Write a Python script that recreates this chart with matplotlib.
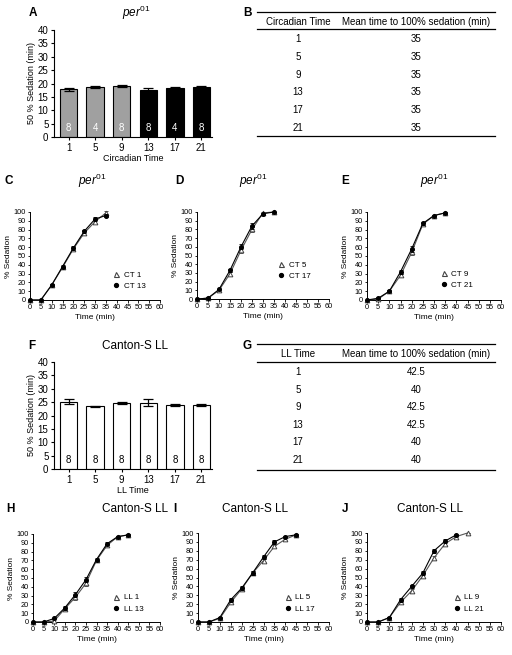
import matplotlib
matplotlib.use('Agg')
import matplotlib.pyplot as plt
from matplotlib.lines import Line2D

plt.rcParams['font.family'] = ['Liberation Sans', 'DejaVu Sans']
plt.rcParams['mathtext.fontset'] = 'custom'
plt.rcParams['mathtext.rm'] = 'Liberation Sans'
plt.rcParams['mathtext.it'] = 'Liberation Sans:italic'

W, H = 512, 655
fig = plt.figure(figsize=(W / 100, H / 100), dpi=100)

# ---------------- data ----------------
ct_labels = ['1', '5', '9', '13', '17', '21']
per_means = [17.8, 18.7, 19.0, 17.7, 18.2, 18.6]
per_sem = [0.5, 0.3, 0.4, 0.7, 0.6, 0.3]
per_n = [8, 4, 8, 8, 4, 8]
per_colors = ['#a0a0a0', '#a0a0a0', '#a0a0a0', '#000000', '#000000', '#000000']
per_text_colors = ['white'] * 6

ll_means = [25.2, 23.4, 24.8, 24.7, 23.9, 23.9]
ll_sem = [1.0, 0.3, 0.4, 1.3, 0.3, 0.3]
ll_n = [8, 8, 8, 8, 8, 8]

table_b_header = ['Circadian Time', 'Mean time to 100% sedation (min)']
table_b_times = ['1', '5', '9', '13', '17', '21']
table_b_vals = ['35', '35', '35', '35', '35', '35']
table_g_header = ['LL Time', 'Mean time to 100% sedation (min)']
table_g_times = ['1', '5', '9', '13', '17', '21']
table_g_vals = ['42.5', '40', '42.5', '42.5', '40', '40']

time_per = [0, 5, 10, 15, 20, 25, 30, 35]
ct1 = [0, 0, 17, 37, 58, 76, 89, 99]
ct1_err = [0, 0, 1, 2, 2, 2, 2, 2]
ct13 = [0, 0, 17, 38, 59, 78, 92, 96]
ct13_err = [0, 0, 1, 2, 2, 2, 2, 2]
ct5 = [0, 1, 10, 29, 56, 80, 99, 100]
ct5_err = [0, 1, 1, 2, 3, 3, 1, 0]
ct17 = [0, 1, 11, 33, 60, 84, 98, 100]
ct17_err = [0, 1, 1, 2, 3, 3, 1, 0]
ct9 = [0, 1, 10, 28, 54, 86, 96, 99]
ct9_err = [0, 1, 1, 2, 3, 2, 1, 1]
ct21 = [0, 2, 10, 32, 58, 87, 96, 99]
ct21_err = [0, 1, 1, 2, 3, 2, 1, 1]

time_ll = [0, 5, 10, 15, 20, 25, 30, 35, 40, 45]
ll1 = [0, 0, 1, 15, 28, 44, 70, 87, 97, 99]
ll1_err = [0, 0, 1, 2, 3, 3, 2, 2, 1, 1]
ll13 = [0, 0, 4, 16, 31, 48, 71, 89, 97, 99]
ll13_err = [0, 0, 1, 2, 3, 3, 2, 2, 1, 1]
ll5 = [0, 0, 4, 22, 37, 55, 69, 85, 93, 98]
ll5_err = [0, 0, 1, 2, 2, 2, 2, 2, 1, 1]
ll17 = [0, 0, 5, 25, 38, 55, 73, 90, 96, 98]
ll17_err = [0, 0, 1, 2, 2, 2, 2, 2, 1, 1]
ll9 = [0, 0, 5, 22, 35, 52, 72, 88, 96, 100]
ll9_err = [0, 0, 1, 2, 2, 2, 2, 2, 1, 0]
time_ll21 = [0, 5, 10, 15, 20, 25, 30, 35, 40]
ll21 = [0, 0, 5, 25, 40, 55, 80, 91, 98]
ll21_err = [0, 0, 1, 2, 2, 2, 2, 2, 1]


def add_ax(l, t, r, b):
    return fig.add_axes([l / W, 1 - b / H, (r - l) / W, (b - t) / H])


def ftext(x, y, s, **kw):
    fig.text(x / W, 1 - y / H, s, **kw)


def bar_panel(rect, means, sem, ns, colors, tcolors, xlabel):
    ax = add_ax(*rect)
    x = list(range(len(means)))
    ax.bar(x, means, width=0.66, color=colors, edgecolor='black', linewidth=0.8)
    ax.errorbar(x, means, yerr=sem, fmt='none', ecolor='black', elinewidth=0.9,
                capsize=3.5, capthick=0.9)
    for xi, n, tc in zip(x, ns, tcolors):
        ax.text(xi, 3.3, str(n), ha='center', va='center', fontsize=7, color=tc)
    ax.set_xlim(-0.55, 5.4)
    ax.set_ylim(0, 40)
    ax.set_yticks(range(0, 41, 5))
    ax.set_xticks(x)
    ax.set_xticklabels(ct_labels)
    ax.spines['top'].set_visible(False)
    ax.spines['right'].set_visible(False)
    for s in ('left', 'bottom'):
        ax.spines[s].set_linewidth(0.8)
    ax.tick_params(labelsize=7, length=2.5, width=0.8, pad=1.5)
    ax.set_ylabel('50 % Sedation (min)', fontsize=6.5, labelpad=1)
    ax.set_xlabel(xlabel, fontsize=6.5, labelpad=1)
    return ax


def line_panel(rect, t1, y1, e1, lab1, t2, y2, e2, lab2, leg_anchor):
    ax = add_ax(*rect)
    ax.errorbar(t1, y1, yerr=e1, color='#555555', marker='^', ms=3.4, mfc='white',
                mec='#444444', mew=0.7, lw=0.8, elinewidth=0.6, capsize=1.2,
                capthick=0.6, clip_on=False, zorder=3)
    ax.errorbar(t2, y2, yerr=e2, color='black', marker='o', ms=2.6, mfc='black',
                mec='black', lw=0.8, elinewidth=0.6, capsize=1.2,
                capthick=0.6, clip_on=False, zorder=4)
    ax.set_xlim(0, 60)
    ax.set_ylim(0, 100)
    ax.set_xticks(range(0, 61, 5))
    ax.set_yticks(range(0, 101, 10))
    ax.spines['top'].set_visible(False)
    ax.spines['right'].set_visible(False)
    for s in ('left', 'bottom'):
        ax.spines[s].set_linewidth(0.7)
    ax.tick_params(labelsize=5.3, length=1.8, width=0.6, pad=1)
    ax.set_ylabel('% Sedation', fontsize=6, labelpad=1)
    ax.set_xlabel('Time (min)', fontsize=6, labelpad=2)
    h1 = Line2D([], [], ls='none', marker='^', ms=3.6, mfc='white', mec='#444444', mew=0.8)
    h2 = Line2D([], [], ls='none', marker='o', ms=2.8, mfc='black', mec='black')
    ax.legend([h1, h2], [lab1, lab2], loc='lower right', bbox_to_anchor=leg_anchor,
              frameon=False, fontsize=5.8, handlelength=0.8, handletextpad=0.5,
              labelspacing=0.45, borderpad=0.0)
    return ax


def table_panel(x0, x1, ytop, yhead, yline2, rows_y, ybot, header, col1, col2, c1x, c2x):
    fig.add_artist(Line2D([x0 / W, x1 / W], [1 - ytop / H] * 2, color='black', lw=0.9))
    fig.add_artist(Line2D([x0 / W, x1 / W], [1 - yline2 / H] * 2, color='black', lw=0.9))
    fig.add_artist(Line2D([x0 / W, x1 / W], [1 - ybot / H] * 2, color='black', lw=0.9))
    ftext(c1x, yhead, header[0], ha='center', va='center', fontsize=7)
    ftext(c2x, yhead, header[1], ha='center', va='center', fontsize=7)
    for yy, a, b in zip(rows_y, col1, col2):
        ftext(c1x, yy, a, ha='center', va='center', fontsize=7)
        ftext(c2x, yy, b, ha='center', va='center', fontsize=7)


# ---------------- panels ----------------
bar_panel((54, 30, 212, 137), per_means, per_sem, per_n, per_colors, per_text_colors,
          'Circadian Time')
bar_panel((54, 362, 212, 469), ll_means, ll_sem, ll_n, ['white'] * 6, ['black'] * 6,
          'LL Time')

table_panel(257, 495, 12, 22, 29, [39, 57, 75, 92, 110, 128], 136,
            table_b_header, table_b_times, table_b_vals, 298, 416)
table_panel(257, 495, 344, 354, 362, [372, 390, 407, 425, 442, 460], 470,
            table_g_header, table_g_times, table_g_vals, 298, 416)

line_panel((30, 212, 160, 300), time_per, ct1, ct1_err, 'CT 1', time_per, ct13, ct13_err,
           'CT 13', (0.92, 0.07))
line_panel((197, 212, 329, 299), time_per, ct5, ct5_err, 'CT 5', time_per, ct17, ct17_err,
           'CT 17', (0.89, 0.17))
line_panel((367, 212, 501, 300), time_per, ct9, ct9_err, 'CT 9', time_per, ct21, ct21_err,
           'CT 21', (0.82, 0.08))
line_panel((33, 534, 160, 622), time_ll, ll1, ll1_err, 'LL 1', time_ll, ll13, ll13_err,
           'LL 13', (0.9, 0.06))
line_panel((198, 533, 329, 622), time_ll, ll5, ll5_err, 'LL 5', time_ll, ll17, ll17_err,
           'LL 17', (0.92, 0.06))
line_panel((367, 533, 501, 622), time_ll, ll9, ll9_err, 'LL 9', time_ll21, ll21, ll21_err,
           'LL 21', (0.9, 0.06))

# titles and panel letters
ftext(136, 13, r'$\mathit{per}^{01}$', ha='center', va='center', fontsize=8.5)
ftext(92, 181, r'$\mathit{per^{01}}$', ha='center', va='center', fontsize=8.5)
ftext(253, 181, r'$\mathit{per^{01}}$', ha='center', va='center', fontsize=8.5)
ftext(434, 181, r'$\mathit{per^{01}}$', ha='center', va='center', fontsize=8.5)
ftext(135, 346, 'Canton-S LL', ha='center', va='center', fontsize=8.5)
ftext(135, 509, 'Canton-S LL', ha='center', va='center', fontsize=8.5)
ftext(255, 509, 'Canton-S LL', ha='center', va='center', fontsize=8.5)
ftext(430, 509, 'Canton-S LL', ha='center', va='center', fontsize=8.5)

for lab, x, y in [('A', 33, 13), ('B', 247, 13), ('C', 9, 181), ('D', 179, 181),
                  ('E', 345, 181), ('F', 32, 346), ('G', 247, 346), ('H', 10, 509),
                  ('I', 175, 509), ('J', 345, 509)]:
    ftext(x, y, lab, ha='center', va='center', fontsize=8.5, fontweight='bold')

fig.savefig('out.png', dpi=100)
